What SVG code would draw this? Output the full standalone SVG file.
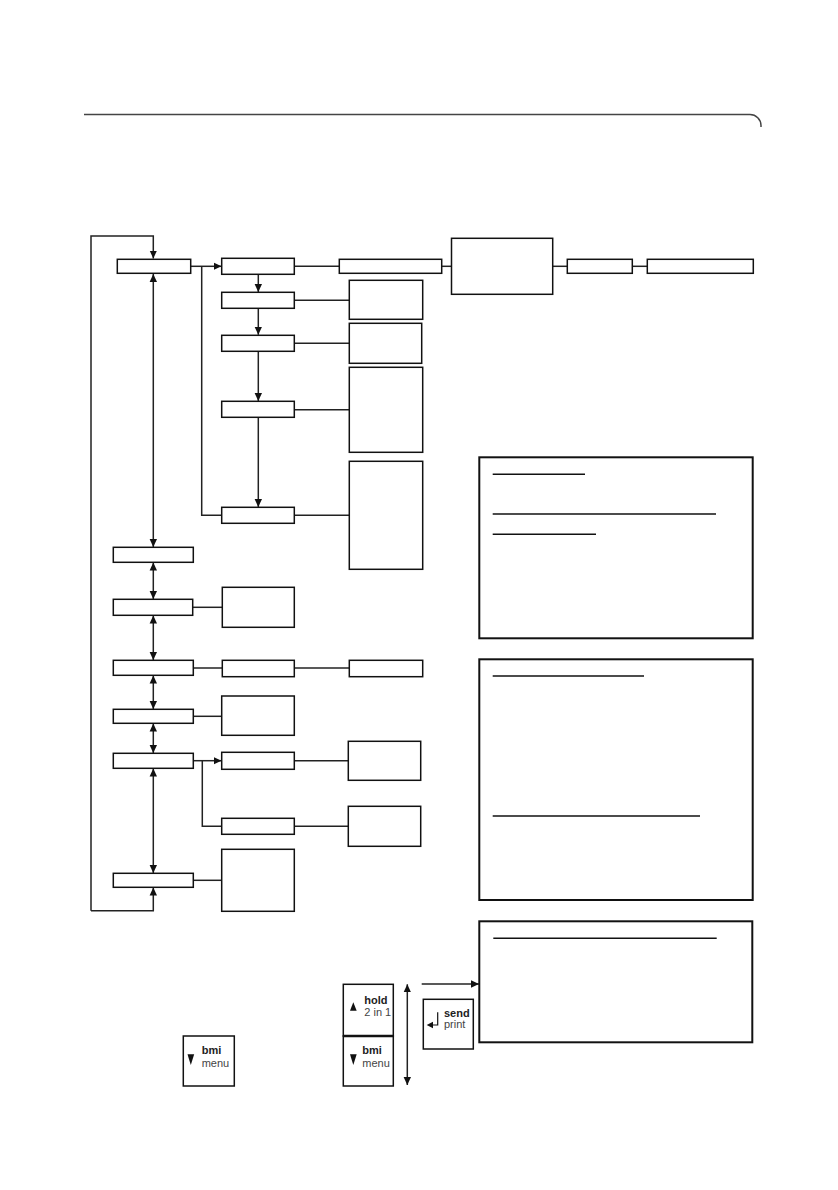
<svg xmlns="http://www.w3.org/2000/svg" width="838" height="1190" viewBox="0 0 838 1190">
<defs>
<marker id="ah" viewBox="0 0 8 8" refX="8" refY="4" markerWidth="8" markerHeight="8" markerUnits="userSpaceOnUse" orient="auto-start-reverse">
<path d="M0,0.3 L8,4 L0,7.7 z" fill="#111"/>
</marker>
</defs>
<style>
.b{fill:#fff;stroke:#111;stroke-width:1.5}
.t{fill:#fff;stroke:#111;stroke-width:2}
.c{fill:none;stroke:#222;stroke-width:1.5}
.a{fill:none;stroke:#222;stroke-width:1.5;marker-end:url(#ah)}
.d{fill:none;stroke:#222;stroke-width:1.5;marker-start:url(#ah);marker-end:url(#ah)}
.u{stroke:#111;stroke-width:1.5}
.bt{font-family:"Liberation Sans",Arial,sans-serif;font-size:11px;font-weight:bold;fill:#222}
.nt{font-family:"Liberation Sans",Arial,sans-serif;font-size:11px;fill:#444}
</style>
<rect width="838" height="1190" fill="#fff"/>
<path d="M84,114.5 H750 A11,11 0 0 1 761,125.5 V127" fill="none" stroke="#444" stroke-width="1.5"/>

<g id="connectors">
<polyline class="a" points="91,910.7 91,236 153.3,236 153.3,258.5"/>
<polyline class="a" points="91,910.7 153.3,910.7 153.3,887.5"/>
<line class="d" x1="153.3" y1="274" x2="153.3" y2="547"/>
<line class="d" x1="153.3" y1="562.5" x2="153.3" y2="599"/>
<line class="d" x1="153.3" y1="615.5" x2="153.3" y2="660"/>
<line class="d" x1="153.3" y1="675.5" x2="153.3" y2="709"/>
<line class="d" x1="153.3" y1="723.5" x2="153.3" y2="753"/>
<line class="d" x1="153.3" y1="768.5" x2="153.3" y2="873"/>
<line class="a" x1="191" y1="266.3" x2="221.5" y2="266.3"/>
<polyline class="c" points="201.7,266.3 201.7,515.3 221.7,515.3"/>
<line class="c" x1="294.3" y1="266.3" x2="339.3" y2="266.3"/>
<line class="c" x1="441.7" y1="266.3" x2="451.5" y2="266.3"/>
<line class="c" x1="552.7" y1="266.3" x2="567.3" y2="266.3"/>
<line class="c" x1="632.3" y1="266.3" x2="647.3" y2="266.3"/>
<line class="a" x1="258.3" y1="274.3" x2="258.3" y2="292"/>
<line class="a" x1="258.3" y1="308.3" x2="258.3" y2="334.8"/>
<line class="a" x1="258.3" y1="351.3" x2="258.3" y2="401"/>
<line class="a" x1="258.3" y1="417.3" x2="258.3" y2="507"/>
<line class="c" x1="294.3" y1="300.3" x2="349.3" y2="300.3"/>
<line class="c" x1="294.3" y1="343.3" x2="349.3" y2="343.3"/>
<line class="c" x1="294.3" y1="409.7" x2="349.3" y2="409.7"/>
<line class="c" x1="294.3" y1="515.3" x2="349.3" y2="515.3"/>
<line class="c" x1="193" y1="607.3" x2="222.3" y2="607.3"/>
<line class="c" x1="193" y1="668" x2="222.3" y2="668"/>
<line class="c" x1="294.3" y1="668" x2="349.3" y2="668"/>
<line class="c" x1="193" y1="716.3" x2="221.7" y2="716.3"/>
<line class="a" x1="193" y1="760.7" x2="221.5" y2="760.7"/>
<polyline class="c" points="202.3,760.7 202.3,826.3 221.7,826.3"/>
<line class="c" x1="294.3" y1="760.7" x2="348.3" y2="760.7"/>
<line class="c" x1="294.3" y1="826.3" x2="348.3" y2="826.3"/>
<line class="c" x1="193" y1="880.3" x2="221.7" y2="880.3"/>
<line class="d" x1="407.3" y1="984.3" x2="407.3" y2="1085"/>
<line class="a" x1="421.7" y1="984" x2="479" y2="984"/>
</g>

<g id="b1"><rect class="b" x="117.3" y="259.3" width="73.4" height="14"/></g>
<g id="b2"><rect class="b" x="113.3" y="547.3" width="80" height="15"/></g>
<g id="b3"><rect class="b" x="113.3" y="599.3" width="79.4" height="16"/></g>
<g id="b4"><rect class="b" x="113.3" y="660.3" width="80" height="15"/></g>
<g id="b5"><rect class="b" x="113.3" y="709.3" width="80" height="14"/></g>
<g id="b6"><rect class="b" x="113.3" y="753.3" width="80" height="15"/></g>
<g id="b7"><rect class="b" x="113.3" y="873.3" width="80" height="14"/></g>

<g id="s1"><rect class="b" x="221.7" y="258.3" width="72.6" height="16"/></g>
<g id="s2"><rect class="b" x="221.7" y="292.3" width="72.6" height="16"/></g>
<g id="s3"><rect class="b" x="221.7" y="335.3" width="72.6" height="16"/></g>
<g id="s4"><rect class="b" x="221.7" y="401.3" width="72.6" height="16"/></g>
<g id="s5"><rect class="b" x="221.7" y="507.3" width="72.6" height="16"/></g>

<g id="h1"><rect class="b" x="339.3" y="259.3" width="102.4" height="14"/></g>
<g id="h2"><rect class="b" x="451.5" y="238.3" width="101.2" height="56"/></g>
<g id="h3"><rect class="b" x="567.3" y="259.3" width="65" height="14"/></g>
<g id="h4"><rect class="b" x="647.3" y="259.3" width="106" height="14"/></g>

<g id="r2"><rect class="b" x="349.3" y="280.3" width="73.4" height="39"/></g>
<g id="r3"><rect class="b" x="349.3" y="323.3" width="72.4" height="40"/></g>
<g id="r4"><rect class="b" x="349.3" y="367.3" width="73.4" height="85"/></g>
<g id="r5"><rect class="b" x="349.3" y="461.3" width="73.4" height="108"/></g>

<g id="c3"><rect class="b" x="222.3" y="587.3" width="72" height="40"/></g>
<g id="c4"><rect class="b" x="222.3" y="660.3" width="72" height="16.4"/></g>
<g id="c4b"><rect class="b" x="349.3" y="660.3" width="73.4" height="16.4"/></g>
<g id="c5"><rect class="b" x="221.7" y="696" width="72.6" height="39.3"/></g>
<g id="c6a"><rect class="b" x="221.7" y="752.3" width="72.6" height="17"/></g>
<g id="c6ar"><rect class="b" x="348.3" y="741.3" width="72.4" height="39"/></g>
<g id="c6b"><rect class="b" x="221.7" y="818.3" width="72.6" height="16"/></g>
<g id="c6br"><rect class="b" x="348.3" y="806.3" width="72.4" height="40"/></g>
<g id="c7"><rect class="b" x="221.7" y="849.3" width="72.6" height="62"/></g>

<g id="info1">
<rect class="t" x="479.3" y="457.3" width="273.4" height="181"/>
<line class="u" x1="492.7" y1="474.3" x2="585" y2="474.3"/>
<line class="u" x1="492.7" y1="514" x2="716" y2="514"/>
<line class="u" x1="492.7" y1="534.3" x2="596" y2="534.3"/>
</g>
<g id="info2">
<rect class="t" x="479.3" y="659.3" width="273.4" height="240.7"/>
<line class="u" x1="492.7" y1="676" x2="644" y2="676"/>
<line class="u" x1="492.7" y1="816" x2="700" y2="816"/>
</g>
<g id="info3">
<rect class="t" x="479.3" y="921.3" width="273" height="121"/>
<line class="u" x1="493.3" y1="938.3" x2="716.7" y2="938.3"/>
</g>

<g id="btn-bmi-single">
<rect class="b" x="183.3" y="1036" width="51" height="50"/>
<path d="M187.5,1054.3 L194.2,1054.3 L190.8,1065 z" fill="#111"/>
<text class="bt" x="201.7" y="1054">bmi</text>
<text class="nt" x="201.7" y="1066.7">menu</text>
</g>
<g id="btn-hold">
<rect class="b" x="343.3" y="984.3" width="50" height="51.7"/>
<path d="M350,1010.7 L356.7,1010.7 L353.3,1002.3 z" fill="#111"/>
<text class="bt" x="364.3" y="1003.7">hold</text>
<text class="nt" x="364.3" y="1016.3">2 in 1</text>
</g>
<g id="btn-bmi">
<rect class="b" x="343.3" y="1036" width="50" height="50"/>
<line x1="343.3" y1="1036" x2="393.3" y2="1036" stroke="#111" stroke-width="2.5"/>
<path d="M350,1054.3 L356.7,1054.3 L353.3,1065 z" fill="#111"/>
<text class="bt" x="362.3" y="1054">bmi</text>
<text class="nt" x="362.3" y="1066.7">menu</text>
</g>
<g id="btn-send">
<rect class="b" x="423.3" y="999.3" width="50" height="49.7"/>
<polyline points="437.7,1012.3 437.7,1025 432,1025" fill="none" stroke="#111" stroke-width="1.2"/>
<path d="M426.7,1025 L433,1021.8 L433,1028.2 z" fill="#111"/>
<text class="bt" x="444" y="1016.7">send</text>
<text class="nt" x="444" y="1028.3">print</text>
</g>
</svg>
